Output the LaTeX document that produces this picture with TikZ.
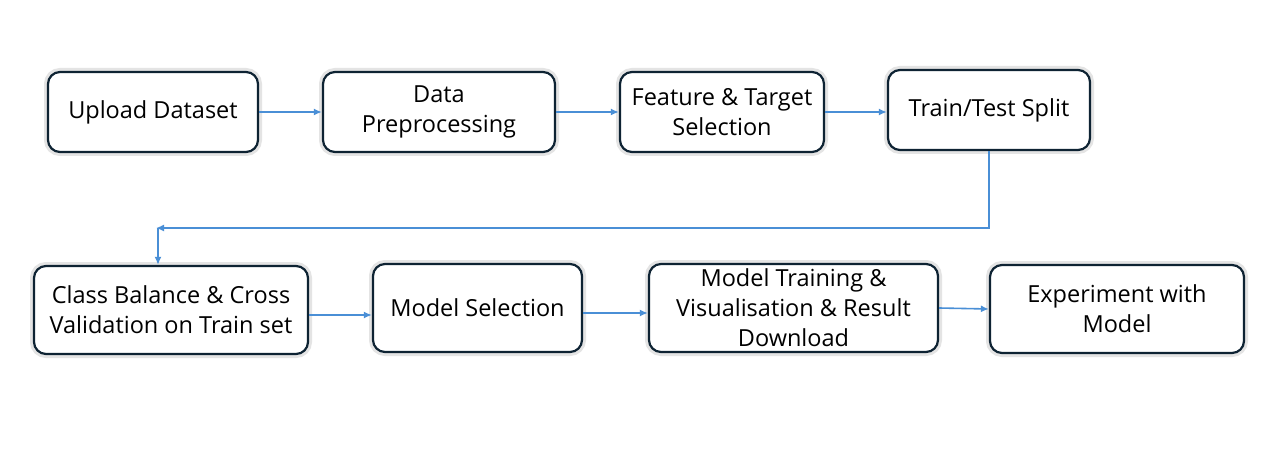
\documentclass[tikz,border=0pt]{standalone}
\usepackage{fontspec}
\setmainfont{Open Sans}
\usetikzlibrary{arrows.meta}
\definecolor{boxline}{HTML}{0E2333}
\definecolor{arrowblue}{HTML}{4A8FD6}
\definecolor{glow}{HTML}{E4E4E4}
\begin{document}
\begin{tikzpicture}[x=1pt,y=-1pt,
  stepbox/.style={draw=boxline, line width=2.2pt, rounded corners=12pt, fill=white,
    preaction={draw=glow, line width=8pt},
    align=center, inner sep=0pt, font=\fontsize{23.5}{30}\selectfont},
  flow/.style={draw=arrowblue, line width=1.6pt, -{Latex[length=8pt,width=7pt]}}]
\useasboundingbox[fill=white] (0,0) rectangle (1276,457);
% row 1
\node[stepbox, minimum width=210pt, minimum height=80pt] (n1) at (153,112) {Upload Dataset};
\node[stepbox, minimum width=232pt, minimum height=80pt] (n2) at (439,112) {Data\\Preprocessing};
\node[stepbox, minimum width=204pt, minimum height=80pt] (n3) at (722,112) {Feature \& Target\\Selection};
\node[stepbox, minimum width=202pt, minimum height=80pt] (n4) at (989,110) {Train/Test Split};
% row 2
\node[stepbox, minimum width=274pt, minimum height=88pt] (n5) at (171,310) {Class Balance \& Cross\\Validation on Train set};
\node[stepbox, minimum width=209pt, minimum height=88pt] (n6) at (477.5,308) {Model Selection};
\node[stepbox, minimum width=289pt, minimum height=88pt] (n7) at (793.5,308) {Model Training \&\\Visualisation \& Result\\Download};
\node[stepbox, minimum width=254pt, minimum height=88pt] (n8) at (1117,309) {Experiment with\\Model};
% connectors
\draw[flow] (n1.east) -- (n2.west);
\draw[flow] (n2.east) -- (n3.west);
\draw[flow] (n3.east) -- (n3.east -| n4.west);
\coordinate (turn) at (156,228);
\draw[flow] (n4.south) |- (turn);
\draw[flow] ([xshift=2pt]turn) -- ([xshift=2pt]turn |- n5.north);
\draw[flow] ([yshift=-5pt]n5.east) -- ([yshift=-5pt]n5.east -| n6.west);
\draw[flow] ([yshift=-5pt]n6.east) -- ([yshift=-5pt]n6.east -| n7.west);
\draw[flow] (n7.east) -- (n8.west);
\end{tikzpicture}
\end{document}
